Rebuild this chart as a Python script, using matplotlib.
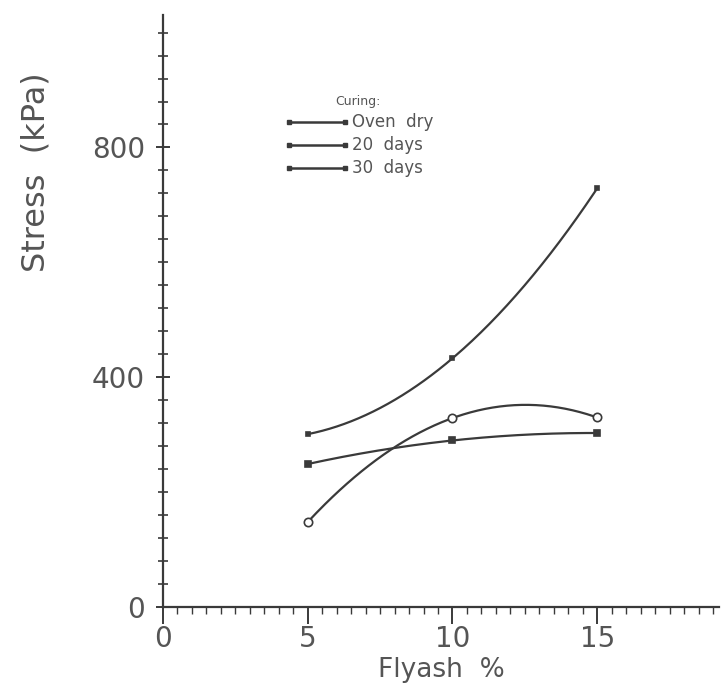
import numpy as np
import matplotlib
matplotlib.use("Agg")
import matplotlib.pyplot as plt
from matplotlib.lines import Line2D
from matplotlib.ticker import MultipleLocator

# ---- data ----
flyash = [5, 10, 15]
oven_dry = [301, 433, 729]
days_20 = [148, 329, 330]
days_30 = [249, 290, 303]
legend_labels = ["Oven  dry", "20  days", "30  days"]
x_ticks = [0, 5, 10, 15]
y_ticks = [0, 400, 800]

INK = "#3a3a3a"
TXT = "#555555"
plt.rcParams['font.family'] = ['DejaVu Sans']

fig = plt.figure(figsize=(7.21, 6.97), dpi=100)
ax = fig.add_axes([0.226, 0.129, 0.771, 0.849])

def smooth(xs, ys):
    c = np.polyfit(xs, ys, 2)
    xx = np.linspace(min(xs), max(xs), 200)
    return xx, np.polyval(c, xx)

series = [
    (oven_dry, dict(marker='s', ms=3, mfc=INK)),
    (days_20, dict(marker='o', ms=6, mfc='white')),
    (days_30, dict(marker='s', ms=4, mfc=INK)),
]
for ys, mk in series:
    xx, yy = smooth(flyash, ys)
    ax.plot(xx, yy, color=INK, lw=1.6)
    ax.plot(flyash, ys, ls='none', color=INK, mec=INK, mew=1.2, **mk)

ax.set_xlim(0, 19.2)
ax.set_ylim(0, 1030)
ax.set_xticks(x_ticks)
ax.set_yticks(y_ticks)
ax.xaxis.set_minor_locator(MultipleLocator(0.5))
ax.yaxis.set_minor_locator(MultipleLocator(40))
for s in ['top', 'right']:
    ax.spines[s].set_visible(False)
for s in ['left', 'bottom']:
    ax.spines[s].set_color(INK)
    ax.spines[s].set_linewidth(1.6)
ax.tick_params(axis='both', which='major', labelsize=20, labelcolor=TXT,
               color=INK, width=1.4)
ax.tick_params(axis='y', which='major', length=10, direction='inout', pad=8)
ax.tick_params(axis='x', which='major', length=12, direction='out', pad=1)
ax.tick_params(axis='y', which='minor', length=7, width=1.2, color=INK, direction='inout')
ax.tick_params(axis='x', which='minor', length=5, width=1.0, color=INK, direction='out')

ax.set_ylabel("Stress  (kPa)", fontsize=23, color=TXT)
ax.yaxis.set_label_coords(-0.2, 0.735)
ax.set_xlabel("Flyash  %", fontsize=19, color=TXT, labelpad=3)

handles = [Line2D([], [], color=INK, lw=1.8, marker='s', ms=3.5, mfc=INK, mec=INK)
           for _ in legend_labels]
leg = ax.legend(handles, legend_labels, numpoints=2, loc='upper left',
                bbox_to_anchor=(0.19, 0.89), frameon=False, fontsize=12,
                handlelength=4.0, handletextpad=0.1, labelspacing=0.3,
                title="Curing:", title_fontsize=9)
for t in leg.get_texts():
    t.set_color(TXT)
leg.get_title().set_color(TXT)

fig.savefig("out.png", dpi=100, facecolor='white')
